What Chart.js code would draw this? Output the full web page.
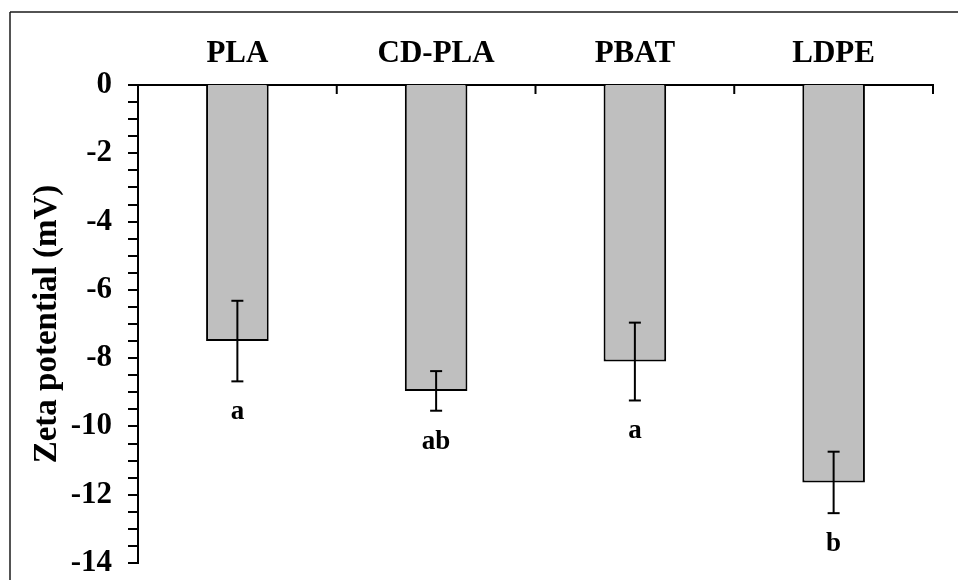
<!DOCTYPE html>
<html>
<head>
<meta charset="utf-8">
<script src="https://cdn.jsdelivr.net/npm/chart.js@4.4.1/dist/chart.umd.min.js"></script>
<style>
  html, body { margin: 0; padding: 0; background: #fff; }
  canvas { display: block; }
</style>
</head>
<body>
<canvas id="zeta" width="958" height="580"></canvas>
<script>
// Zeta potential of the four microplastic types (mean ± SD, mV)
const materials = ['PLA', 'CD-PLA', 'PBAT', 'LDPE'];
const zetaMean = [-7.5, -8.96, -8.1, -11.64];
const zetaSD = [1.18, 0.58, 1.14, 0.9];
const groupLetters = ['a', 'ab', 'a', 'b'];
const yMin = -14;
const yMax = 0;
const yStep = 2;
const yMinorStep = 0.5;

const SERIF = "'Liberation Serif', 'Times New Roman', serif";

// Minor ticks, inward category ticks, error bars, significance letters and the figure frame
const decorations = {
  id: 'decorations',
  afterDraw(chart) {
    const { ctx, scales: { x, y } } = chart;
    const seg = (x1, y1, x2, y2) => { ctx.beginPath(); ctx.moveTo(x1, y1); ctx.lineTo(x2, y2); ctx.stroke(); };
    ctx.save();
    ctx.strokeStyle = '#000';
    ctx.lineWidth = 2;

    // outward ticks on the value axis every half unit
    for (let v = yMax; v >= yMin - 1e-9; v -= yMinorStep) {
      const py = Math.round(y.getPixelForValue(v));
      seg(x.left - 10, py, x.left, py);
    }

    // category boundary ticks hanging from the top axis
    const n = materials.length;
    for (let i = 1; i <= n; i++) {
      const px = x.left + i * (x.right - x.left) / n;
      seg(px, y.top, px, y.top + 9);
    }

    // error bars and group letters
    const meta = chart.getDatasetMeta(0);
    ctx.fillStyle = '#000';
    ctx.font = `bold 27px ${SERIF}`;
    ctx.textAlign = 'center';
    ctx.textBaseline = 'middle';
    meta.data.forEach((bar, i) => {
      const cx = bar.x;
      const hi = y.getPixelForValue(zetaMean[i] + zetaSD[i]);
      const lo = y.getPixelForValue(zetaMean[i] - zetaSD[i]);
      seg(cx, hi, cx, lo);
      seg(cx - 6, hi, cx + 6, hi);
      seg(cx - 6, lo, cx + 6, lo);
      ctx.fillText(groupLetters[i], cx, lo + 31);
    });

    // figure frame
    ctx.strokeStyle = '#1a1a1a';
    ctx.lineWidth = 1.5;
    seg(10, 12, chart.width, 12);
    seg(10, 12, 10, chart.height);
    ctx.restore();
  }
};

new Chart(document.getElementById('zeta'), {
  type: 'bar',
  data: {
    labels: materials,
    datasets: [{
      data: zetaMean,
      backgroundColor: '#bfbfbf',
      borderColor: '#000',
      borderWidth: 2,
      borderSkipped: 'start',
      barPercentage: 0.315,
      categoryPercentage: 1
    }]
  },
  options: {
    responsive: false,
    animation: false,
    devicePixelRatio: 1,
    layout: { padding: { left: 0, top: 0, right: 25, bottom: 17 } },
    plugins: { legend: { display: false }, tooltip: { enabled: false } },
    scales: {
      x: {
        position: 'top',
        z: 1,
        offset: true,
        grid: { display: false, drawTicks: false },
        border: { display: true, color: '#000', width: 2 },
        ticks: {
          color: '#000',
          padding: 12,
          font: { family: SERIF, size: 31, weight: 'bold', lineHeight: 1.2 }
        },
        afterFit(scale) { scale.height = 85; }
      },
      y: {
        min: yMin,
        max: yMax,
        z: 1,
        grid: { display: false, drawTicks: false },
        border: { display: true, color: '#000', width: 2 },
        ticks: {
          stepSize: yStep,
          color: '#000',
          padding: 26,
          font: { family: SERIF, size: 31, weight: 'bold', lineHeight: 1.2 }
        },
        title: {
          display: true,
          text: 'Zeta potential (mV)',
          color: '#000',
          padding: { top: 28, bottom: 0 },
          font: { family: SERIF, size: 33, weight: 'bold', lineHeight: 1.2 }
        },
        afterFit(scale) {
          scale.width = 138;
          scale.paddingTop = 0;
          scale.paddingBottom = 0;
        }
      }
    }
  },
  plugins: [decorations]
});
</script>
</body>
</html>
